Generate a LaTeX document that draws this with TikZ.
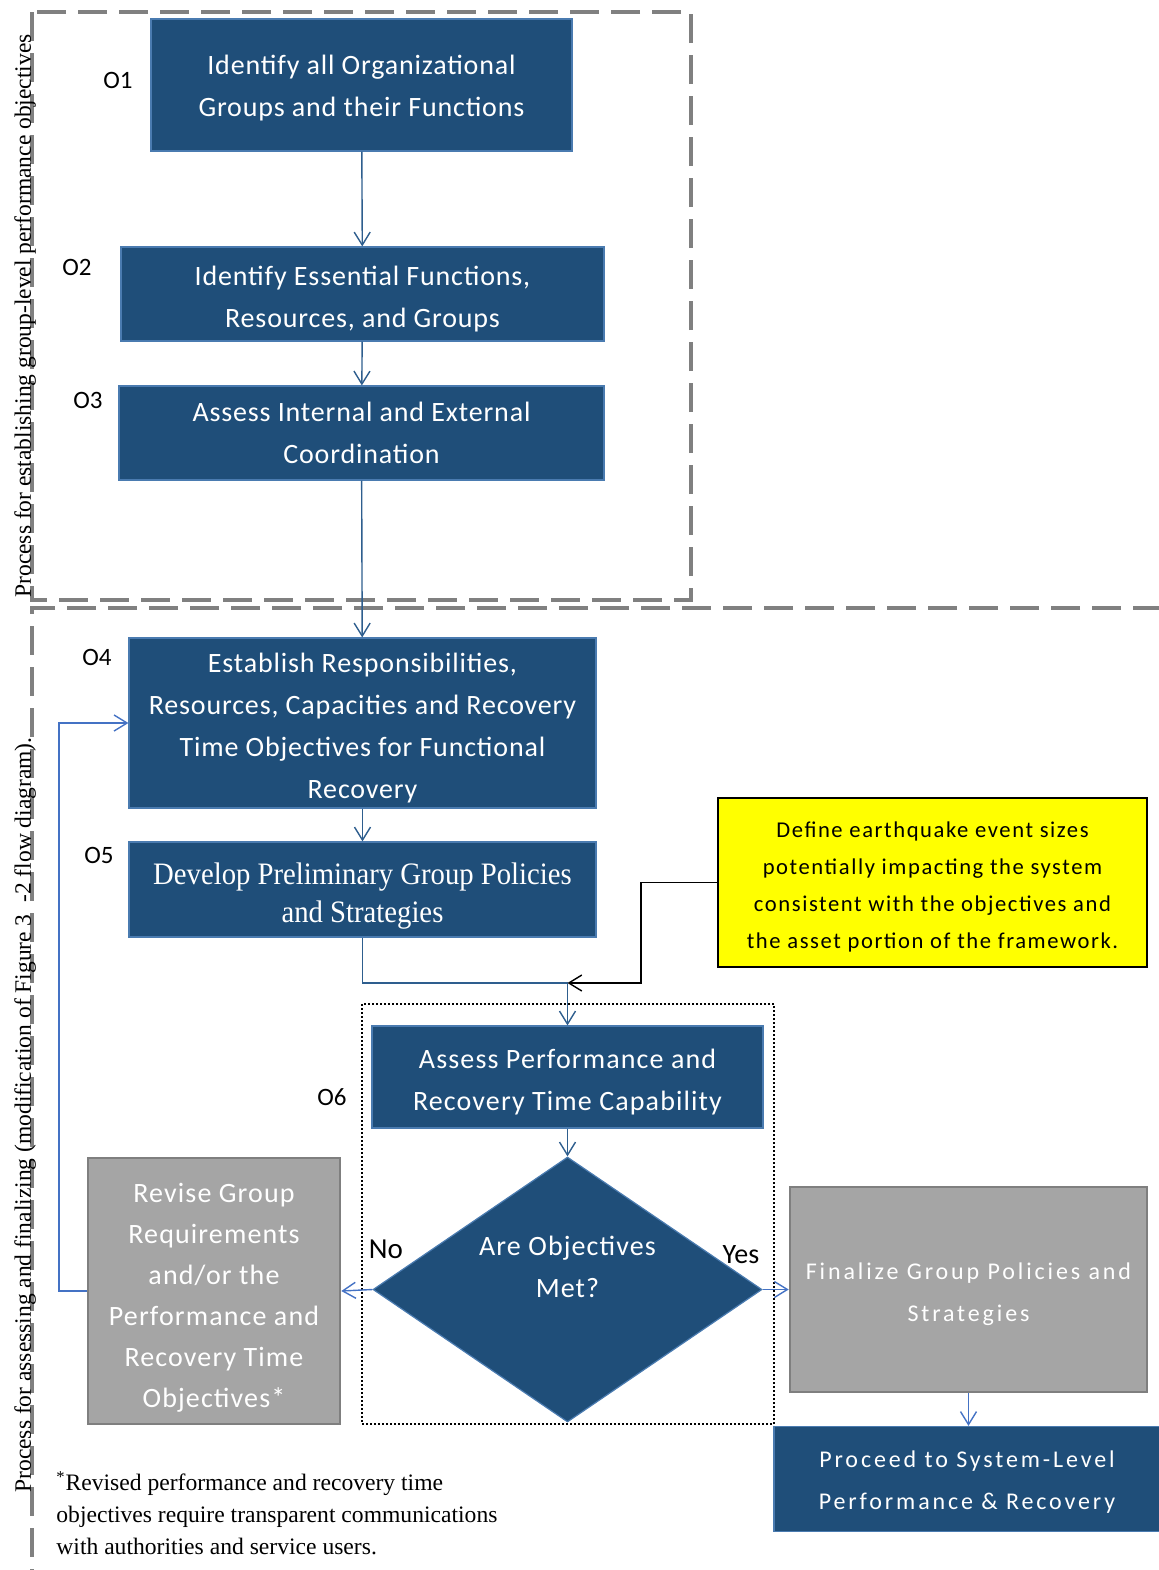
\documentclass[tikz,border=0pt]{standalone}
\usepackage{fontspec}
\setmainfont{Carlito}
\newfontfamily\serifface{Liberation Serif}
\newfontfamily\serifnarrow[FakeStretch=0.92]{Liberation Serif}
\newfontfamily\spacedZ[LetterSpace=3]{Carlito}
\newfontfamily\spacedA[LetterSpace=4]{Carlito}
\newfontfamily\spacedY[LetterSpace=7]{Carlito}
\newfontfamily\spacedB[LetterSpace=12]{Carlito}
\usetikzlibrary{arrows.meta,shapes.geometric}
% invisible strut on a first line, to set the text a little lower in its box
\newcommand\lift[1]{\rule{0pt}{#1}}

\definecolor{boxblue}{HTML}{1F4E79}
\definecolor{boxedge}{HTML}{4A7BB0}
\definecolor{linkdark}{HTML}{2E5E8E}
\definecolor{linklight}{HTML}{4472C4}
\definecolor{boxgray}{HTML}{A5A5A5}
\definecolor{edgegray}{HTML}{7F7F7F}
\definecolor{framegray}{HTML}{808080}
\definecolor{notefill}{HTML}{FFFF00}

\begin{document}
\begin{tikzpicture}[x=0.5pt,y=-0.5pt,
  bluebox/.style={draw=boxedge, line width=0.6pt, fill=boxblue, text=white,
    align=center, inner sep=0pt, font=\spacedZ\fontsize{14}{21}\selectfont},
  graybox/.style={draw=edgegray, line width=1.3pt, fill=boxgray, text=white,
    align=center, inner sep=0pt},
  flow/.style={draw=linkdark, line width=0.7pt,
    -{Straight Barb[length=6.5pt,width=8pt]}},
  flowlight/.style={flow, draw=linklight},
  tag/.style={font=\fontsize{12.5}{14}\selectfont, text=black},
  frame/.style={draw=framegray, line width=1.7pt, dash pattern=on 14.5pt off 6pt},
  sidetext/.style={rotate=90, anchor=base, font=\serifface\fontsize{11.75}{13}\selectfont},
]
\useasboundingbox (0,0) rectangle (1158,1570);

% group frames
\draw[frame] (32,12) rectangle (691,600);
\draw[frame] (1162,608) -- (32,608) -- (32,1574);

% side captions
\node[sidetext] (cap1) at (31,316) {Process for establishing group-level performance objectives};
\node[sidetext] (cap2) at (31,1115) {Process for assessing and finalizing (modification of Figure 3 \ -2 flow diagram).};

% group-level objective steps
\node[bluebox, minimum width=210.5pt, minimum height=66pt] (o1) at (361.5,85)
  {\lift{13pt}Identify all Organizational\\Groups and their Functions};
\node[bluebox, minimum width=241.5pt, minimum height=47pt] (o2) at (362.5,294)
  {\lift{14.5pt}Identify Essential Functions,\\Resources, and Groups};
\node[bluebox, minimum width=242.5pt, minimum height=47pt] (o3) at (361.5,433)
  {Assess Internal and External\\Coordination};
\node[bluebox, minimum width=233.5pt, minimum height=85pt] (o4) at (362.5,723)
  {\lift{15pt}Establish Responsibilities,\\Resources, Capacities and Recovery\\Time Objectives for Functional\\Recovery};
\node[bluebox, minimum width=233.5pt, minimum height=47.5pt,
  font=\serifnarrow\fontsize{15.6}{19}\selectfont] (o5) at (362.5,889.5)
  {\lift{17pt}Develop Preliminary Group Policies\\and Strategies};

% step labels
\node[tag] (l1) at (118,80) {O1};
\node[tag] (l2) at (77,267) {O2};
\node[tag] (l3) at (88,400) {O3};
\node[tag] (l4) at (97,657) {O4};
\node[tag] (l5) at (99,855) {O5};
\node[tag] (l6) at (332,1097) {O6};

% earthquake event note
\node[draw=black, line width=1.3pt, fill=notefill, text=black, align=center,
  inner sep=0pt, minimum width=214.5pt, minimum height=84.5pt,
  font=\spacedY\fontsize{11.3}{18.5}\selectfont] (quake) at (932.5,882.5)
  {\lift{12.5pt}Define earthquake event sizes\\potentially impacting the system\\consistent with the objectives and\\the asset portion of the framework.};

% assessment loop
\draw[black, line width=1pt, dash pattern=on 1pt off 1pt] (362,1004) rectangle (774,1424);
\node[bluebox, minimum width=195.5pt, minimum height=51pt,
  font=\spacedA\fontsize{14}{21}\selectfont] (o6) at (567.5,1077)
  {\lift{15pt}Assess Performance and\\Recovery Time Capability};
\node[diamond, draw=boxedge, line width=0.6pt, fill=boxblue, inner sep=0pt,
  aspect=1.47, minimum width=194.5pt, minimum height=132.5pt] (met) at (567.5,1289.5) {};
\node[text=white, align=center, font=\spacedA\fontsize{14}{21}\selectfont] (metq) at (567.5,1267)
  {Are Objectives\\Met?};
\node[tag, font=\fontsize{14.5}{16}\selectfont] (no) at (386,1249) {No};
\node[tag, font=\fontsize{14}{16}\selectfont] (yes) at (741,1255) {Yes};

\node[graybox, minimum width=126pt, minimum height=133pt,
  font=\spacedA\fontsize{14}{20.5}\selectfont] (revise) at (214,1291)
  {\lift{16pt}Revise Group\\Requirements\\and/or the\\Performance and\\Recovery Time\\Objectives*};
\node[graybox, minimum width=178.5pt, minimum height=102.5pt,
  font=\spacedB\fontsize{12}{21}\selectfont] (final) at (968.5,1289.5)
  {\lift{13.5pt}Finalize Group Policies and\\Strategies};
\node[bluebox, minimum width=193pt, minimum height=52.5pt,
  font=\spacedB\fontsize{12}{21}\selectfont] (proceed) at (967,1479)
  {\lift{11.5pt}Proceed to System-Level\\Performance \& Recovery};

% footnote
\node[anchor=north west, align=left, inner sep=0pt,
  font=\serifface\fontsize{11.8}{16}\selectfont] (note) at (56,1471)
  {\textsuperscript{*}Revised performance and recovery time\\objectives require transparent communications\\with authorities and service users.};

% connectors
\coordinate (merge) at (567.5,983);
\coordinate (bend) at (641,983);
\coordinate (loop) at (59,723);
\draw[flow] (o1) -- (o2);
\draw[flow] (o2) -- (o3);
\draw[flow] (o3) -- (o4);
\draw[flow] (o4) -- (o5);
\draw[flow] (o5.south) |- (merge) -- (o6.north);
\draw[flow, draw=black] (quake.west) -| (bend) -- (merge);
\draw[flow] (o6) -- (met);
\draw[flowlight] (met.west) -- (revise.east);
\draw[flowlight] (met.east) -- (final.west);
\draw[flowlight] (final.south) -- (final.south |- proceed.north);
\draw[flowlight] (revise.west) -| (loop) -- (o4.west);
\end{tikzpicture}
\end{document}
